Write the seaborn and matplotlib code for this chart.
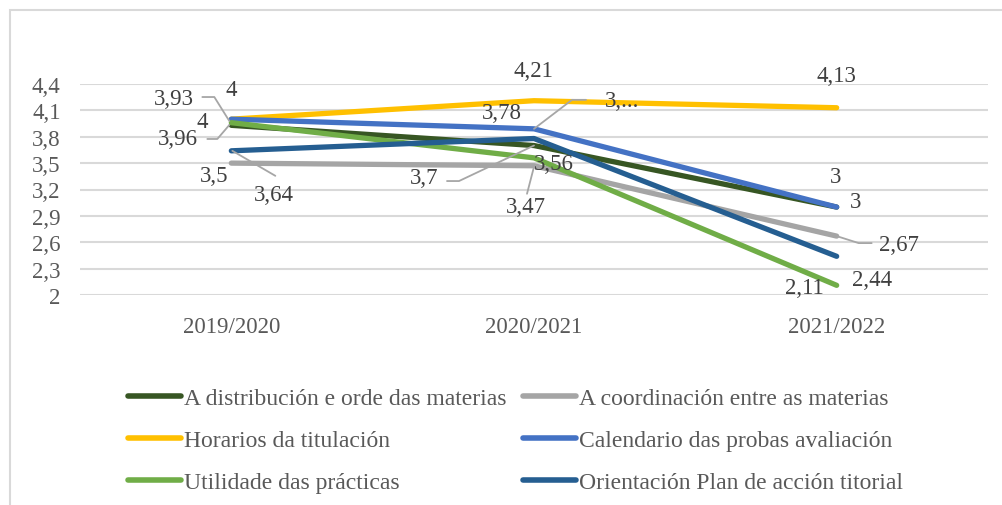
import numpy as np
import pandas as pd
import matplotlib
matplotlib.use("Agg")
import matplotlib.pyplot as plt
import matplotlib.transforms as mtransforms
from matplotlib.patches import Rectangle
import seaborn as sns

# --- datos ---
years = ["2019/2020", "2020/2021", "2021/2022"]
series_names = [
    "A distribución e orde das materias",
    "A coordinación entre as materias",
    "Horarios da titulación",
    "Calendario das probas avaliación",
    "Utilidade das prácticas",
    "Orientación Plan de acción titorial",
]
distribucion = [3.93, 3.7, 3]
coordinacion = [3.5, 3.47, 2.67]
horarios = [4, 4.21, 4.13]
calendario = [4, 3.89, 3]
utilidade = [3.96, 3.56, 2.11]
orientacion = [3.64, 3.78, 2.44]
# etiquetas tal como aparecen (unha está truncada no orixinal)
label_text = [
    ["3,93", "3,7", "3"],
    ["3,5", "3,47", "2,67"],
    ["4", "4,21", "4,13"],
    ["4", "3,...", "3"],
    ["3,96", "3,56", "2,11"],
    ["3,64", "3,78", "2,44"],
]
yticks = [2, 2.3, 2.6, 2.9, 3.2, 3.5, 3.8, 4.1, 4.4]
ytick_labels = ["2", "2,3", "2,6", "2,9", "3,2", "3,5", "3,8", "4,1", "4,4"]

colors = ["#375623", "#A5A5A5", "#FFC000", "#4472C4", "#70AD47", "#255E91"]

values = [distribucion, coordinacion, horarios, calendario, utilidade, orientacion]
df = pd.DataFrame({
    "ano": years * len(series_names),
    "valor": np.concatenate(values),
    "serie": np.repeat(series_names, len(years)),
})

# --- estilo ---
sns.set_style("white")
plt.rcParams["font.family"] = ["Liberation Serif", "DejaVu Serif"]
txt_col = "#404040"
fs = 16.5

fig = plt.figure(figsize=(10.03, 5.06), dpi=100)
ax = fig.add_axes([80 / 1003, 1 - 296 / 506, 908 / 1003, 211 / 506])

sns.lineplot(data=df, x="ano", y="valor", hue="serie", hue_order=series_names,
             palette=colors, linewidth=3.8, sort=False, ax=ax,
             solid_capstyle="round")

ax.set_xlim(-0.5, 2.5)
ax.set_ylim(2, 4.4)
ax.set_yticks(yticks)
ax.set_yticklabels(ytick_labels)
ax.yaxis.grid(True, color="#D9D9D9", lw=1.5)
ax.set_axisbelow(True)
for s in ax.spines.values():
    s.set_visible(False)
ax.tick_params(axis="both", length=0, labelsize=fs, colors="#595959")
ax.tick_params(axis="y", pad=14)
ax.tick_params(axis="x", pad=15)
ax.set_xlabel("")
ax.set_ylabel("")

# --- etiquetas de datos (desprazamento en píxeles, y cara abaixo) ---
label_off = [
    [(-57, -27), (-110, 32), (-1, -31)],
    [(-17, 12), (-8, 41), (62, 8)],
    [(0, -30), (-1, -30), (0, -32)],
    [(-29, 2), (88, -28), (19, -6)],
    [(-53, 16), (20, 6), (-32, 2)],
    [(43, 44), (-32, -26), (35, 23)],
]
for i, vals in enumerate(values):
    for j, v in enumerate(vals):
        dx, dy = label_off[i][j]
        ax.annotate(label_text[i][j], (j, v), xytext=(dx, -dy),
                    textcoords="offset pixels", ha="center", va="center",
                    fontsize=fs, color=txt_col)

# liñas guía
leaders = [
    (0, 0, [(-29, -28.3), (-17, -28.3), (-2, -4.3)]),
    (4, 0, [(-24, 16.3), (-14, 16.3), (-2, 2.3)]),
    (5, 0, [(1, 0), (44, 25)]),
    (3, 1, [(0, 0), (38, -29), (52, -29)]),
    (0, 1, [(-87, 35.5), (-75, 35.5), (0, 0)]),
    (1, 1, [(0, 1), (-7, 28)]),
    (1, 2, [(0, 0), (22, 7), (35, 7)]),
]
for i, j, pts in leaders:
    tr = (mtransforms.Affine2D().scale(1 / fig.dpi) + fig.dpi_scale_trans
          + mtransforms.ScaledTranslation(j, values[i][j], ax.transData))
    xs = [p[0] for p in pts]
    ys = [-p[1] for p in pts]
    ax.plot(xs, ys, transform=tr, color="#A6A6A6", lw=1.3, clip_on=False)

# --- lenda ---
handles, labels = ax.get_legend_handles_labels()
ax.get_legend().remove()
order = [0, 2, 4, 1, 3, 5]
leg = fig.legend([handles[k] for k in order], [labels[k] for k in order],
                 ncol=2, loc="upper left", bbox_to_anchor=(107 / 1003, 1 - 367 / 506),
                 frameon=False, fontsize=17, handlelength=2.25, handletextpad=0.12,
                 columnspacing=0.68, labelspacing=0.87)
for t in leg.get_texts():
    t.set_color("#595959")
for h in leg.get_lines():
    h.set_linewidth(4)

# marco
fig.patches.append(Rectangle((10 / 1003, -0.1), 1.2, 1.1 - 11 / 506, transform=fig.transFigure,
                             fill=False, ec="#D9D9D9", lw=1.5))

fig.savefig("out.png", dpi=100)
